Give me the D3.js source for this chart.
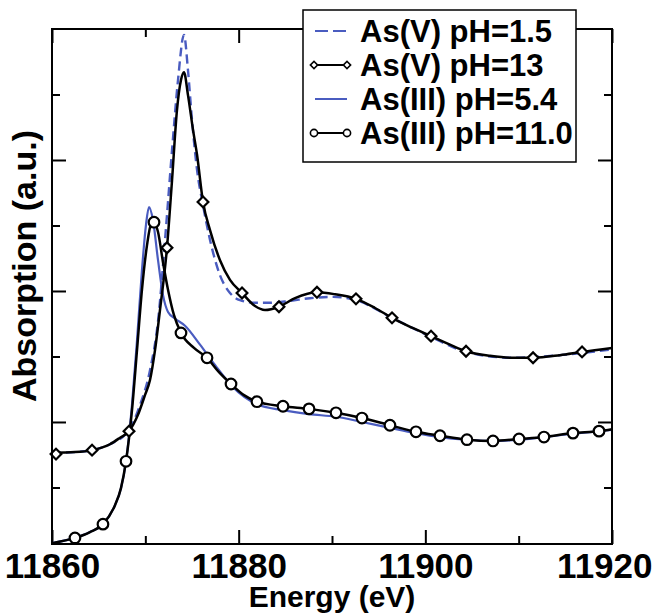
<!DOCTYPE html>
<html>
<head>
<meta charset="utf-8">
<script src="https://cdn.jsdelivr.net/npm/d3@7"></script>
<style>
  body { margin: 0; background: #fff; }
  svg { display: block; font-family: "Liberation Sans", Arial, sans-serif; font-weight: bold; }
</style>
</head>
<body>
<div id="chart"></div>
<script>
// energy (eV), absorption (a.u.)
const asV13 = [
  [11860.00, 0.153], [11862.46, 0.154], [11864.29, 0.157], [11866.21, 0.166], [11867.29, 0.176],
  [11868.25, 0.186], [11869.21, 0.211], [11869.96, 0.241], [11870.50, 0.264], [11871.04, 0.310],
  [11871.57, 0.371], [11872.32, 0.466], [11872.86, 0.569], [11873.39, 0.676], [11873.82, 0.722],
  [11874.14, 0.734], [11874.57, 0.699], [11875.11, 0.646], [11875.54, 0.608], [11876.18, 0.536],
  [11876.93, 0.493], [11878.00, 0.447], [11879.07, 0.417], [11880.36, 0.397], [11881.75, 0.377],
  [11882.82, 0.371], [11884.32, 0.376], [11886.04, 0.389], [11888.39, 0.398], [11890.32, 0.395],
  [11892.57, 0.388], [11894.61, 0.374], [11896.43, 0.359], [11898.57, 0.344], [11900.61, 0.331],
  [11902.64, 0.318], [11904.36, 0.308], [11906.93, 0.301], [11909.29, 0.298], [11911.54, 0.298],
  [11914.43, 0.302], [11916.79, 0.307], [11920.00, 0.313]
];
const asV13Marks = [
  [11860.43, 0.151], [11864.29, 0.157], [11868.25, 0.186], [11872.32, 0.466], [11876.18, 0.536],
  [11880.36, 0.397], [11884.32, 0.376], [11888.39, 0.398], [11892.57, 0.388], [11896.43, 0.359],
  [11900.61, 0.331], [11904.36, 0.308], [11911.54, 0.298], [11916.79, 0.307]
];

const asV15 = [
  [11860.00, 0.153], [11862.46, 0.154], [11864.29, 0.157], [11866.21, 0.166], [11868.25, 0.188],
  [11869.43, 0.226], [11870.50, 0.279], [11871.36, 0.354], [11872.11, 0.478], [11872.86, 0.615],
  [11873.50, 0.722], [11874.14, 0.791], [11874.57, 0.737], [11875.00, 0.661], [11875.54, 0.585],
  [11876.18, 0.531], [11876.93, 0.478], [11878.00, 0.424], [11879.07, 0.397], [11880.14, 0.386],
  [11881.75, 0.382], [11883.36, 0.382], [11885.50, 0.385], [11887.64, 0.389], [11890.11, 0.391],
  [11892.57, 0.386], [11896.43, 0.359], [11900.61, 0.330], [11904.36, 0.307], [11909.29, 0.298],
  [11914.43, 0.302], [11920.00, 0.311]
];

const asIII11 = [
  [11860.00, 0.015], [11862.46, 0.023], [11864.07, 0.032], [11865.46, 0.044], [11866.75, 0.073],
  [11867.39, 0.099], [11867.93, 0.140], [11868.57, 0.218], [11869.11, 0.310], [11869.64, 0.402],
  [11870.18, 0.470], [11870.61, 0.502], [11870.93, 0.505], [11871.36, 0.490], [11871.89, 0.444],
  [11872.43, 0.402], [11873.07, 0.363], [11873.82, 0.336], [11875.21, 0.313], [11876.61, 0.298],
  [11877.89, 0.276], [11879.18, 0.258], [11880.57, 0.241], [11881.96, 0.231], [11884.75, 0.224],
  [11887.54, 0.220], [11890.43, 0.214], [11893.21, 0.206], [11896.21, 0.195], [11899.00, 0.185],
  [11901.57, 0.179], [11904.46, 0.173], [11907.25, 0.171], [11910.04, 0.174], [11912.71, 0.177],
  [11915.82, 0.183], [11918.61, 0.186], [11920.00, 0.189]
];
const asIII11Marks = [
  [11862.46, 0.023], [11865.46, 0.044], [11867.93, 0.140], [11870.93, 0.505], [11873.82, 0.336],
  [11876.61, 0.298], [11879.18, 0.258], [11881.96, 0.231], [11884.75, 0.224], [11887.54, 0.220],
  [11890.43, 0.214], [11893.21, 0.206], [11896.21, 0.195], [11899.00, 0.185], [11901.57, 0.179],
  [11904.46, 0.173], [11907.25, 0.171], [11910.04, 0.174], [11912.71, 0.177], [11915.82, 0.183],
  [11918.61, 0.186]
];

const asIII54 = [
  [11860.00, 0.015], [11862.46, 0.023], [11864.07, 0.032], [11865.46, 0.044], [11866.75, 0.073],
  [11867.39, 0.099], [11867.93, 0.140], [11868.57, 0.226], [11869.11, 0.325], [11869.64, 0.432],
  [11870.07, 0.501], [11870.39, 0.528], [11870.82, 0.508], [11871.36, 0.447], [11871.89, 0.394],
  [11872.43, 0.368], [11873.18, 0.358], [11874.25, 0.347], [11875.86, 0.318], [11877.46, 0.287],
  [11879.39, 0.253], [11881.96, 0.227], [11884.75, 0.218], [11887.54, 0.212], [11890.43, 0.208],
  [11893.21, 0.200], [11896.21, 0.191], [11899.00, 0.183], [11901.57, 0.177], [11904.46, 0.173],
  [11907.25, 0.171], [11910.04, 0.173], [11912.71, 0.177], [11915.82, 0.182], [11918.61, 0.186],
  [11920.00, 0.188]
];

const xTicks = [11860, 11880, 11900, 11920];
const xMinor = [11870, 11890, 11910];
const yTicks = [0.2, 0.4, 0.6];
const yMinor = [0.1, 0.3, 0.5, 0.7];

const legendItems = [
  {label: "As(V) pH=1.5", color: "#4a5cc0", dash: "13,5", mark: null},
  {label: "As(V) pH=13", color: "#000", dash: null, mark: "diamond"},
  {label: "As(III) pH=5.4", color: "#4a5cc0", dash: null, mark: null},
  {label: "As(III) pH=11.0", color: "#000", dash: null, mark: "circle"}
];

const W = 656, H = 614;
const margin = {top: 29, right: 44, bottom: 70, left: 52};
const width = W - margin.left - margin.right,
  height = H - margin.top - margin.bottom;

const svg = d3.select("#chart").append("svg")
  .attr("width", W)
  .attr("height", H);

const g = svg.append("g")
  .attr("transform", `translate(${margin.left}, ${margin.top})`);

const x = d3.scaleLinear().domain([11860, 11920]).range([0, width]);
const y = d3.scaleLinear().domain([0.0137, 0.8]).range([height, 0]);

const blue = "#4a5cc0";

// frame ticks, all four sides pointing inwards
function ticks(sel, axis, vals, len) {
  sel.call(axis.tickValues(vals).tickSize(len).tickFormat(""));
  sel.select(".domain").remove();
  sel.selectAll("line").attr("stroke", "#000").attr("stroke-width", 2);
}
ticks(g.append("g").attr("transform", `translate(0, ${height})`), d3.axisTop(x), xTicks, 14);
ticks(g.append("g").attr("transform", `translate(0, ${height})`), d3.axisTop(x), xMinor, 8);
ticks(g.append("g"), d3.axisBottom(x), xTicks, 14);
ticks(g.append("g"), d3.axisBottom(x), xMinor, 8);
ticks(g.append("g"), d3.axisRight(y), yTicks, 14);
ticks(g.append("g"), d3.axisRight(y), yMinor, 8);
ticks(g.append("g").attr("transform", `translate(${width}, 0)`), d3.axisLeft(y), yTicks, 14);
ticks(g.append("g").attr("transform", `translate(${width}, 0)`), d3.axisLeft(y), yMinor, 8);

const xLab = g.append("g").attr("transform", `translate(0, ${height})`)
  .call(d3.axisBottom(x).tickValues(xTicks).tickSize(0).tickPadding(9).tickFormat(d3.format("d")));
xLab.select(".domain").remove();
xLab.selectAll("text")
  .attr("fill", "#000")
  .style("font-family", "'Liberation Sans', Arial, sans-serif")
  .style("font-weight", "bold")
  .style("font-size", "35px")
  .attr("dy", "0.72em")
  .attr("text-anchor", d => d === 11920 ? "end" : "middle")
  .attr("x", d => d === 11920 ? 40 : 0);

const line = d3.line()
  .x(d => x(d[0]))
  .y(d => y(d[1]))
  .curve(d3.curveMonotoneX);

const plot = g.append("g");
plot.append("path").datum(asIII54)
  .attr("fill", "none").attr("stroke", blue).attr("stroke-width", 2.2)
  .attr("d", line);
plot.append("path").datum(asV15)
  .attr("fill", "none").attr("stroke", blue).attr("stroke-width", 2.4)
  .attr("stroke-dasharray", "9,5")
  .attr("d", line);
plot.append("path").datum(asIII11)
  .attr("fill", "none").attr("stroke", "#000").attr("stroke-width", 2.5)
  .attr("d", line);
plot.append("path").datum(asV13)
  .attr("fill", "none").attr("stroke", "#000").attr("stroke-width", 2.5)
  .attr("d", line);

const diamond = d3.symbol().type(d3.symbolSquare).size(58);

plot.selectAll(".dia")
  .data(asV13Marks)
  .enter()
  .append("path")
    .attr("class", "dia")
    .attr("d", diamond)
    .attr("transform", d => `translate(${x(d[0])}, ${y(d[1])}) rotate(45)`)
    .attr("fill", "#fff").attr("stroke", "#000").attr("stroke-width", 2.2);

plot.selectAll(".circ")
  .data(asIII11Marks)
  .enter()
  .append("circle")
    .attr("class", "circ")
    .attr("cx", d => x(d[0]))
    .attr("cy", d => y(d[1]))
    .attr("r", 5.3)
    .attr("fill", "#fff").attr("stroke", "#000").attr("stroke-width", 2.2);

// frame
g.append("rect")
  .attr("width", width).attr("height", height)
  .attr("fill", "none").attr("stroke", "#000").attr("stroke-width", 2);

// axis titles
svg.append("text")
  .attr("x", margin.left + width / 2)
  .attr("y", 607)
  .attr("text-anchor", "middle")
  .style("font-size", "30px")
  .text("Energy (eV)");
svg.append("text")
  .attr("transform", `translate(36, 266) rotate(-90)`)
  .attr("text-anchor", "middle")
  .style("font-size", "34px")
  .text("Absorption (a.u.)");

// legend
const legend = svg.append("g").attr("transform", "translate(303, 10)");
legend.append("rect")
  .attr("width", 273).attr("height", 152)
  .attr("fill", "#fff").attr("stroke", "#000").attr("stroke-width", 1.5);

const rows = legend.selectAll(".row")
  .data(legendItems)
  .enter()
  .append("g")
    .attr("class", "row")
    .attr("transform", (d, i) => `translate(0, ${21 + i * 34})`);

rows.append("line")
  .attr("x1", 12).attr("x2", 44)
  .attr("stroke", d => d.color).attr("stroke-width", 2)
  .attr("stroke-dasharray", d => d.dash);
rows.filter(d => d.mark === "diamond").selectAll(".m")
  .data([11, 44]).enter().append("path")
    .attr("d", d3.symbol().type(d3.symbolSquare).size(26))
    .attr("transform", d => `translate(${d}, 0) rotate(45)`)
    .attr("fill", "#fff").attr("stroke", "#000").attr("stroke-width", 1.6);
rows.filter(d => d.mark === "circle").selectAll(".m")
  .data([11, 44]).enter().append("circle")
    .attr("cx", d => d).attr("r", 3.6)
    .attr("fill", "#fff").attr("stroke", "#000").attr("stroke-width", 1.6);
rows.append("text")
  .attr("x", 57).attr("dy", "0.36em")
  .style("font-size", "31px")
  .text(d => d.label);
</script>
</body>
</html>
